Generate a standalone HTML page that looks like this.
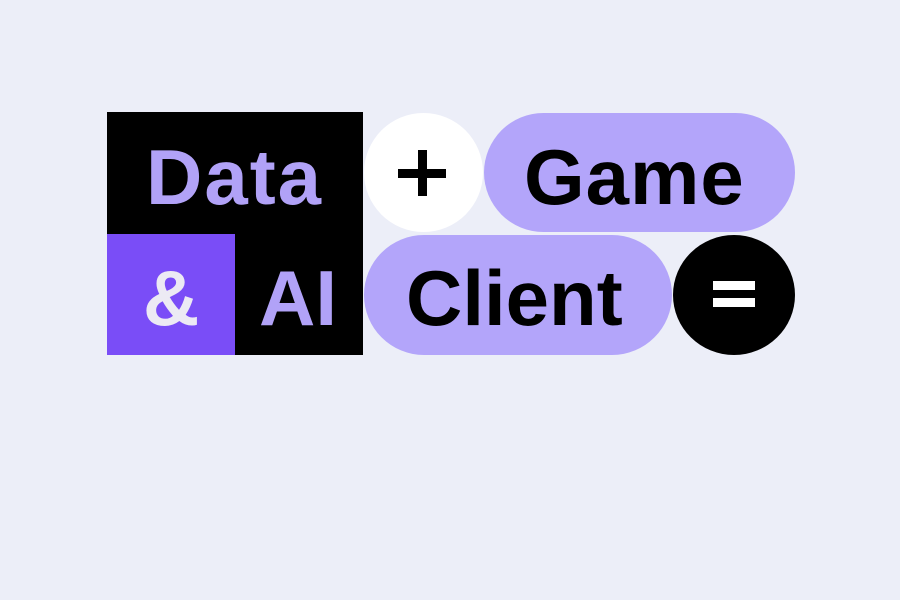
<!DOCTYPE html>
<html><head><style>
body{margin:0;width:900px;height:600px;background:#ECEEF8;position:relative;overflow:hidden;font-family:"Liberation Sans",sans-serif;font-weight:bold}
div{position:absolute;box-sizing:border-box}
.t{position:absolute;white-space:nowrap;line-height:1}
</style></head><body>
<div style="left:107px;top:112px;width:256px;height:243px;background:#000"></div>
<div style="left:107px;top:234px;width:128px;height:121px;background:#7A4DF7"></div>
<span class="t" style="left:146px;top:138px;font-size:78px;color:#B1A2F7;letter-spacing:2px">Data</span>
<span class="t" style="left:143px;top:259px;font-size:78px;color:#ECEAF4">&amp;</span>
<span class="t" style="left:259px;top:259px;font-size:78px;color:#B1A2F7">AI</span>
<div style="left:364px;top:113px;width:119px;height:119px;border-radius:50%;background:#fff"></div>
<div style="left:398px;top:169px;width:48px;height:9px;background:#000"></div>
<div style="left:418px;top:150px;width:9px;height:46px;background:#000"></div>
<div style="left:484px;top:113px;width:311px;height:119px;border-radius:60px;background:#B3A5FA"></div>
<span class="t" style="left:524px;top:138px;font-size:78px;color:#000;letter-spacing:1px">Game</span>
<div style="left:364px;top:235px;width:308px;height:120px;border-radius:60px;background:#B3A5FA"></div>
<span class="t" style="left:406px;top:259px;font-size:78px;color:#000;letter-spacing:0px">Client</span>
<div style="left:673px;top:235px;width:122px;height:120px;border-radius:50%;background:#000"></div>
<div style="left:713px;top:281px;width:42px;height:9px;background:#fff"></div>
<div style="left:713px;top:298px;width:42px;height:9px;background:#fff"></div>
</body></html>
